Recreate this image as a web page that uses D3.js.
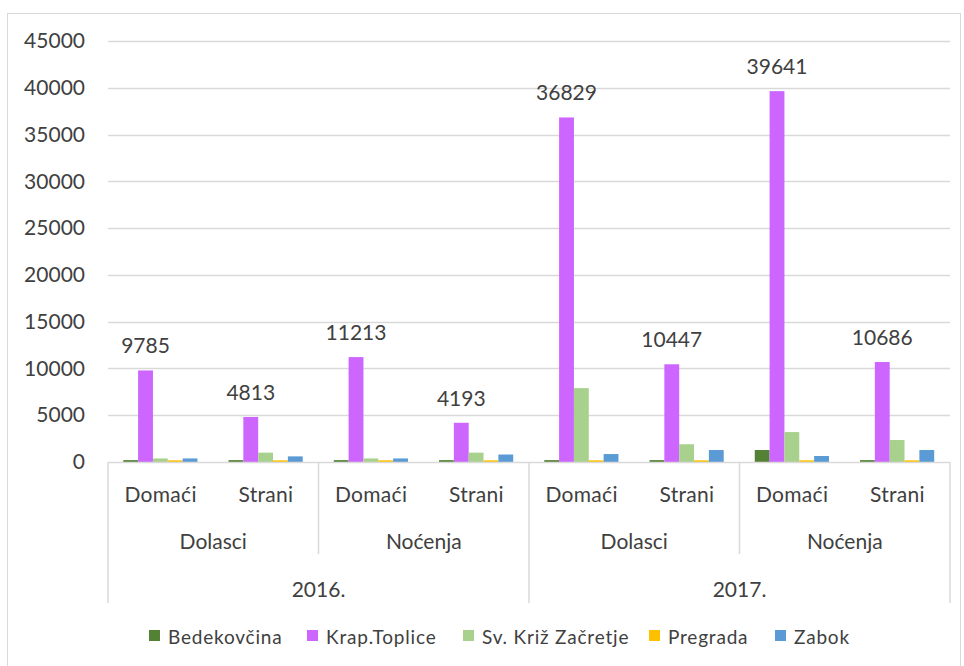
<!DOCTYPE html>
<html><head><meta charset="utf-8">
<script src="https://cdn.jsdelivr.net/npm/d3@7"></script>
<style>body{margin:0;background:#fff}svg{display:block}text{font-family:Lato,"Open Sans",sans-serif;fill:#404040}</style>
</head><body><svg id="c" width="964" height="666"></svg>
<script>
const years = ["2016.", "2017."];
const types = ["Dolasci", "Noćenja"];
const origins = ["Domaći", "Strani"];
const seriesNames = ["Bedekovčina", "Krap.Toplice", "Sv. Križ Začretje", "Pregrada", "Zabok"];
const colors = ["#548235", "#CC66FF", "#A9D18E", "#FFC000", "#5B9BD5"];
const bedekovcina = [200, 200, 200, 200, 200, 200, 1280, 200];
const krapToplice = [9785, 4813, 11213, 4193, 36829, 10447, 39641, 10686];
const svKriz = [380, 1000, 380, 1000, 7900, 1900, 3200, 2350];
const pregrada = [180, 180, 180, 180, 180, 180, 180, 180];
const zabok = [380, 600, 380, 800, 850, 1280, 640, 1280];
const yTicks = [0, 5000, 10000, 15000, 20000, 25000, 30000, 35000, 40000, 45000];
const labeledSeries = 1;

const values = [bedekovcina, krapToplice, svKriz, pregrada, zabok];
const cats = [];
years.forEach(y => types.forEach(t => origins.forEach(o => cats.push({y, t, o, key: y + "|" + t + "|" + o}))));

const svg = d3.select("#c");
const L = 108, R = 950, T = 41, B = 462;

svg.append("rect").attr("x", 7.5).attr("y", 13.5).attr("width", 953).attr("height", 670)
  .attr("fill", "none").attr("stroke", "#d9d9d9");

const y = d3.scaleLinear().domain([0, 45000]).range([B, T]);
const x0 = d3.scaleBand().domain(cats.map(c => c.key)).range([L, R]).padding(0);
const gw = x0.bandwidth();
const x1 = d3.scaleBand().domain(seriesNames).range([gw * 0.145, gw * 0.85]).padding(0);

// gridlines
svg.append("g").selectAll("line").data(yTicks.filter(v => v > 0)).join("line")
  .attr("x1", L).attr("x2", R).attr("y1", d => Math.round(y(d)) + 0.5).attr("y2", d => Math.round(y(d)) + 0.5)
  .attr("stroke", "#d9d9d9").attr("stroke-width", 1.3);

// y axis labels
const yAxis = d3.axisLeft(y).tickValues(yTicks).tickSize(0).tickPadding(0).tickFormat(d3.format("d"));
const ya = svg.append("g").attr("transform", `translate(85,0)`).call(yAxis);
ya.select(".domain").remove();
ya.selectAll("text").attr("font-size", 21).attr("fill", "#404040").style("font-family", "Lato");

// bars
const g = svg.append("g");
cats.forEach((c, i) => {
  seriesNames.forEach((s, j) => {
    const v = values[j][i];
    g.append("rect").attr("x", x0(c.key) + x1(s)).attr("width", x1.bandwidth())
      .attr("y", y(v)).attr("height", B - y(v)).attr("fill", colors[j]);
  });
  const v = values[labeledSeries][i];
  svg.append("text").attr("x", x0(c.key) + x1(seriesNames[labeledSeries]) + x1.bandwidth() / 2)
    .attr("y", y(v) - 17).attr("text-anchor", "middle").attr("font-size", 21).text(v);
});

// category axis
const ax = svg.append("g").attr("stroke", "#d9d9d9").attr("stroke-width", 1.5);
ax.append("line").attr("x1", L).attr("x2", R).attr("y1", B + 0.5).attr("y2", B + 0.5);
[L, x0(cats[4].key), R].forEach(xx => ax.append("line").attr("x1", xx).attr("x2", xx).attr("y1", B).attr("y2", 603));
[x0(cats[2].key), x0(cats[6].key)].forEach(xx => ax.append("line").attr("x1", xx).attr("x2", xx).attr("y1", B).attr("y2", 554));

cats.forEach(c => {
  svg.append("text").attr("x", x0(c.key) + gw / 2).attr("y", 502).attr("text-anchor", "middle")
    .attr("font-size", 21).attr("letter-spacing", 0.3).text(c.o);
});
years.forEach((yy, yi) => {
  types.forEach((t, ti) => {
    const start = x0(cats[yi * 4 + ti * 2].key);
    svg.append("text").attr("x", start + gw).attr("y", 549).attr("text-anchor", "middle")
      .attr("font-size", 21).text(t);
  });
  const start = x0(cats[yi * 4].key);
  svg.append("text").attr("x", start + gw * 2).attr("y", 597).attr("text-anchor", "middle")
    .attr("font-size", 21).text(yy);
});

// legend
const legX = [149, 307, 463, 649, 775];
seriesNames.forEach((s, j) => {
  svg.append("rect").attr("x", legX[j]).attr("y", 630).attr("width", 11).attr("height", 11).attr("fill", colors[j]);
  svg.append("text").attr("x", legX[j] + 19).attr("y", 644).attr("font-size", 19).attr("letter-spacing", 0.8).text(s);
});
</script></body></html>
